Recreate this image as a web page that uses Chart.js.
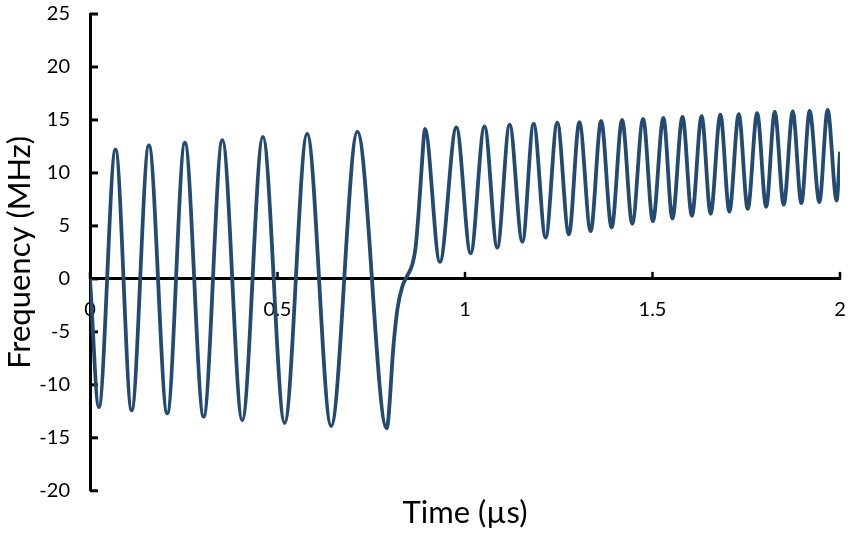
<!DOCTYPE html>
<html>
<head>
<meta charset="utf-8">
<script src="https://cdn.jsdelivr.net/npm/chart.js@4.4.1/dist/chart.umd.min.js"></script>
<style>
    html, body { margin: 0; padding: 0; background: #fff; }
    #wrap { width: 850px; height: 537px; }
</style>
</head>
<body>
<div id="wrap"><canvas id="myChart"></canvas></div>
<script>
// temps (µs) : pics, creux et epaulement
const times = [
    0, 0.0235, 0.068, 0.111, 0.157, 0.206, 0.253, 0.303, 0.353, 0.406, 0.461,
    0.519, 0.579, 0.643, 0.713, 0.791,
    0.810, 0.820, 0.833, 0.846, 0.859, 0.868, 0.877, 0.886,
    0.893, 0.933, 0.977, 1.015, 1.052, 1.086, 1.119, 1.153, 1.183, 1.215,
    1.246, 1.277, 1.305, 1.335, 1.363, 1.391, 1.419, 1.446, 1.475, 1.501,
    1.529, 1.553, 1.580, 1.605, 1.631, 1.655, 1.681, 1.705, 1.730, 1.754,
    1.779, 1.803, 1.826, 1.850, 1.874, 1.897, 1.919, 1.945, 1.967, 1.991, 2.0
];
// frequence (MHz) aux memes instants
const freqs = [
    0, -12.1, 12.2, -12.4, 12.6, -12.7, 12.85, -13.0, 13.1, -13.35, 13.4,
    -13.6, 13.7, -13.9, 13.9, -14.1,
    -6.0, -2.8, -0.7, 0.3, 1.3, 2.9, 6.6, 11.3,
    14.15, 1.6, 14.3, 2.4, 14.4, 2.95, 14.55, 3.5, 14.65, 3.9,
    14.75, 4.2, 14.8, 4.5, 14.9, 4.85, 15.0, 5.2, 15.1, 5.45,
    15.2, 5.7, 15.3, 5.95, 15.35, 6.15, 15.5, 6.35, 15.55, 6.6,
    15.65, 6.8, 15.75, 7.0, 15.8, 7.15, 15.85, 7.25, 15.95, 7.4, 12
];
const xTicks = [0, 0.5, 1, 1.5, 2];
const yTicks = [-20, -15, -10, -5, 0, 5, 10, 15, 20, 25];

Chart.defaults.font.family = 'Lato';
Chart.defaults.color = '#000';

// petites graduations tournees vers l'interieur
const innerTicks = {
    id: 'innerTicks',
    beforeDatasetsDraw(chart) {
        const {ctx, scales: {x, y}} = chart;
        const y0 = y.getPixelForValue(0);
        ctx.save();
        ctx.strokeStyle = '#000';
        ctx.lineWidth = 3;
        yTicks.forEach(v => {
            const py = y.getPixelForValue(v);
            ctx.beginPath();
            ctx.moveTo(x.left, py);
            ctx.lineTo(x.left + 8, py);
            ctx.stroke();
        });
        ctx.lineWidth = 2.5;
        xTicks.forEach(v => {
            const px = x.getPixelForValue(v);
            ctx.beginPath();
            ctx.moveTo(px, y0);
            ctx.lineTo(px, y0 - 7);
            ctx.stroke();
        });
        ctx.restore();
    }
};

const ctx = document.getElementById('myChart').getContext('2d');
const myChart = new Chart(ctx, {
    type: 'line',
    data: {
        datasets: [{
            label: 'Frequency',
            data: times.map((t, i) => ({x: t, y: freqs[i]})),
            borderColor: '#234a70',
            borderWidth: 3.8,
            pointRadius: 0,
            fill: false,
            cubicInterpolationMode: 'monotone'
        }]
    },
    options: {
        responsive: true,
        maintainAspectRatio: false,
        animation: false,
        layout: {padding: {left: 0, right: 10, top: 14, bottom: 0}},
        plugins: {
            legend: {display: false},
            tooltip: {enabled: false},
            title: {
                display: true,
                text: 'Time (µs)',
                position: 'bottom',
                fullSize: false,
                font: {size: 31, weight: 'normal'},
                padding: {top: 4, bottom: 5}
            }
        },
        scales: {
            x: {
                type: 'linear',
                position: {y: 0},
                min: 0,
                max: 2,
                grid: {drawOnChartArea: false, drawTicks: false},
                border: {color: '#000', width: 3},
                ticks: {
                    stepSize: 0.5,
                    padding: 19,
                    font: {size: 20},
                    maxRotation: 0,
                    callback: v => String(v)
                },
                afterFit(scale) {
                    scale.paddingLeft = 0;
                    scale.paddingRight = 0;
                }
            },
            y: {
                min: -20,
                max: 25,
                grid: {drawOnChartArea: false, drawTicks: false},
                border: {color: '#000', width: 3},
                ticks: {stepSize: 5, padding: 20, font: {size: 20}},
                title: {
                    display: true,
                    text: 'Frequency (MHz)',
                    font: {size: 31},
                    padding: {top: 1, bottom: 0}
                },
                afterFit(scale) {
                    scale.width = 90;
                    scale.paddingTop = 0;
                    scale.paddingBottom = 0;
                }
            }
        }
    },
    plugins: [innerTicks]
});
</script>
</body>
</html>
